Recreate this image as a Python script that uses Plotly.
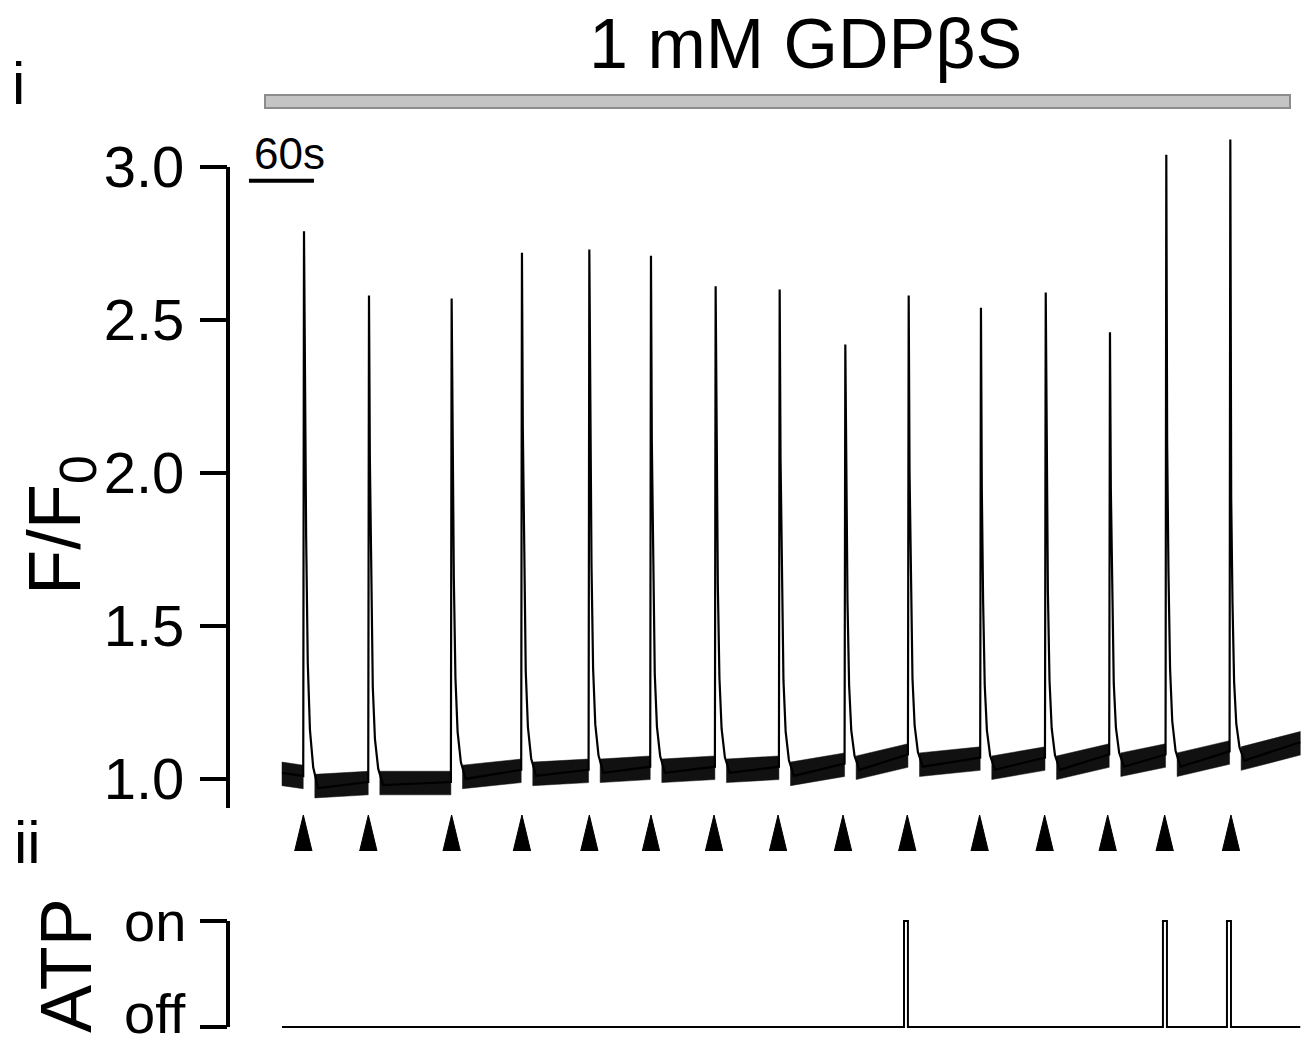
import plotly.graph_objects as go

W, H = 1311, 1048
FONT = "Liberation Sans, Arial, Helvetica, sans-serif"

# ---------------- data (time in s, F/F0) ----------------
spike_t = [20.3, 80.3, 156.6, 221.5, 283.7, 340.6, 400.3, 459.4, 520.0,
           578.5, 645.2, 705.0, 764.3, 816.3, 875.4]
spike_peak = [2.79, 2.58, 2.57, 2.72, 2.73, 2.71, 2.61, 2.60, 2.42,
              2.58, 2.54, 2.59, 2.46, 3.04, 3.09]
spike_knee = [2.33, 2.05, 2.10, 2.15, 2.15, 2.10, 2.05, 2.05, 1.95,
              2.00, 1.95, 2.00, 1.95, 2.10, 1.92]
pre_level = [1.01, 0.99, 0.99, 1.03, 1.03, 1.04, 1.04, 1.04, 1.05,
             1.08, 1.07, 1.07, 1.08, 1.08, 1.09]
post_level = [0.97, 0.98, 1.00, 1.01, 1.02, 1.02, 1.02, 1.01, 1.03,
              1.04, 1.03, 1.03, 1.04, 1.04, 1.06]
trace_start = [0.0, 1.02]
trace_end = [940.0, 1.12]
# decay after knee (s after peak, fraction of knee-to-baseline remaining)
tail_dt = [2.0, 3.5, 5.5, 8.5, 13.0]
tail_frac = [0.60, 0.30, 0.14, 0.05, 0.0]
noise_up, noise_dn = 0.035, 0.042

arrow_t = [19.7, 79.7, 156.6, 221.5, 283.7, 340.6, 398.8, 457.9, 517.9,
           577.2, 644.0, 704.0, 762.2, 814.8, 876.0]

atp_t = [0.0, 574.2, 577.8, 813.2, 816.9, 872.3, 876.0, 940.0]
atp_state = [0, 1, 0, 1, 0, 1, 0, 0]

y_ticks = [1.0, 1.5, 2.0, 2.5, 3.0]
atp_ticks = [0, 1]
atp_labels = ["off", "on"]
scale_bar_s = 60

# ---------------- build trace ----------------
tx, ty = [trace_start[0]], [trace_start[1]]
for t, pk, kn, pre, post in zip(spike_t, spike_peak, spike_knee, pre_level, post_level):
    tx += [t - 0.7, t, t + 0.8]
    ty += [pre, pk, kn]
    for dt, fr in zip(tail_dt, tail_frac):
        tx.append(t + dt)
        ty.append(post + (kn - post) * fr)
tx.append(trace_end[0])
ty.append(trace_end[1])

# noise band polygons between spikes
seg_a = [(trace_start[0], trace_start[1])] + [(t + 10.0, post + 0.01) for t, post in zip(spike_t, post_level)]
seg_b = [(t - 0.7, pre) for t, pre in zip(spike_t, pre_level)] + [(trace_end[0], trace_end[1])]
bx, by = [], []
for (a, la), (b, lb) in zip(seg_a, seg_b):
    bx += [a, b, b, a, a, None]
    by += [la + noise_up, lb + noise_up, lb - noise_dn, la - noise_dn, la + noise_up, None]

# arrowheads
ax_, ay_ = [], []
hw = 8.0
for t in arrow_t:
    ax_ += [t - hw, t, t + hw, t - hw, None]
    ay_ += [0, 1, 0, 0, None]

fig = go.Figure()
fig.add_trace(go.Scatter(x=bx, y=by, mode="lines", fill="toself", fillcolor="#111111",
                         line=dict(width=0.5, color="#111111"), xaxis="x", yaxis="y",
                         hoverinfo="skip", showlegend=False))
fig.add_trace(go.Scatter(x=tx, y=ty, mode="lines", line=dict(color="black", width=2.2),
                         xaxis="x", yaxis="y", showlegend=False, cliponaxis=False))
fig.add_trace(go.Scatter(x=ax_, y=ay_, mode="lines", fill="toself", fillcolor="black",
                         line=dict(width=1, color="black"), xaxis="x", yaxis="y3",
                         showlegend=False, hoverinfo="skip"))
fig.add_trace(go.Scatter(x=atp_t, y=atp_state, mode="lines", line=dict(color="black", width=2, shape="hv"),
                         xaxis="x", yaxis="y2", showlegend=False))

def py(px):
    return 1 - px / H

def pxx(px):
    return px / W

x0 = (228 - 282) / 1.0833
x1 = (1305 - 282) / 1.0833
xdom = [pxx(228), pxx(1305)]

fig.update_layout(
    template="none",
    width=W, height=H, margin=dict(l=0, r=0, t=0, b=0, pad=0, autoexpand=False),
    paper_bgcolor="white", plot_bgcolor="white",
    font=dict(family=FONT, color="black"),
    xaxis=dict(domain=xdom, range=[x0, x1], visible=False, automargin=False),
    yaxis=dict(domain=[py(808), py(130.3)], range=[0.905, 3.12], anchor="x", automargin=False,
               showline=False, showgrid=False, zeroline=False,
               tickvals=y_ticks, ticktext=[f"{v:.1f}" for v in y_ticks],
               ticks="outside", ticklen=27, tickwidth=4, tickcolor="black",
               tickfont=dict(size=58, family=FONT, color="black"), ticklabelstandoff=4,
               ticklabeloverflow="allow"),
    yaxis2=dict(domain=[py(1032.3), py(915.7)], range=[-0.05, 1.05], anchor="x", automargin=False,
                showline=False, showgrid=False, zeroline=False,
                tickvals=atp_ticks, showticklabels=False,
                ticks="outside", ticklen=27, tickwidth=4, tickcolor="black"),
    yaxis3=dict(domain=[py(851), py(815)], range=[0, 1], anchor="x", visible=False, automargin=False),
    showlegend=False,
)

shapes = [
    # y axis lines
    dict(type="line", xref="paper", yref="y", x0=pxx(228), x1=pxx(228), y0=0.905, y1=3.0,
         line=dict(color="black", width=4)),
    dict(type="line", xref="paper", yref="y2", x0=pxx(228), x1=pxx(228), y0=0, y1=1,
         line=dict(color="black", width=4)),
    # drug application bar
    dict(type="rect", xref="paper", yref="paper", x0=pxx(265), x1=pxx(1290), y0=py(108), y1=py(95),
         fillcolor="#c4c4c4", line=dict(color="#8c8c8c", width=2)),
    # 60 s scale bar
    dict(type="line", xref="x", yref="y", x0=-30.5, x1=-30.5 + scale_bar_s, y0=2.955, y1=2.955,
         line=dict(color="black", width=4)),
]
fig.update_layout(shapes=shapes)

ann = [
    dict(text="1 mM GDPβS", x=pxx(805), y=py(44), font=dict(size=70)),
    dict(text="i", x=pxx(18), y=py(84), font=dict(size=60)),
    dict(text="ii", x=pxx(27), y=py(842), font=dict(size=60)),
    dict(text="60s", x=pxx(289), y=py(153), font=dict(size=44)),
    dict(text="F/F<sub>0</sub>", x=pxx(60), y=py(525), font=dict(size=74), textangle=-90),
    dict(text="ATP", x=pxx(66), y=py(966), font=dict(size=72), textangle=-90),
]
for a in ann:
    a.update(xref="paper", yref="paper", showarrow=False, xanchor="center", yanchor="middle")
    a["font"]["family"] = FONT
    a["font"]["color"] = "black"

# ATP state labels (tick labels placed as annotations so "off" stays inside the page)
for v, lab in zip(atp_ticks, atp_labels):
    if v == 0:
        ann.append(dict(text=lab, xref="paper", yref="paper", x=pxx(188), y=0.001,
                        xanchor="right", yanchor="bottom", showarrow=False,
                        font=dict(size=56, family=FONT, color="black")))
    else:
        ann.append(dict(text=lab, xref="paper", yref="y2", x=pxx(188), y=v,
                        xanchor="right", yanchor="middle", showarrow=False,
                        font=dict(size=56, family=FONT, color="black")))
fig.update_layout(annotations=ann)

fig.write_html("out.html", config={"displayModeBar": False},
               post_script="document.body.style.margin='0';")
